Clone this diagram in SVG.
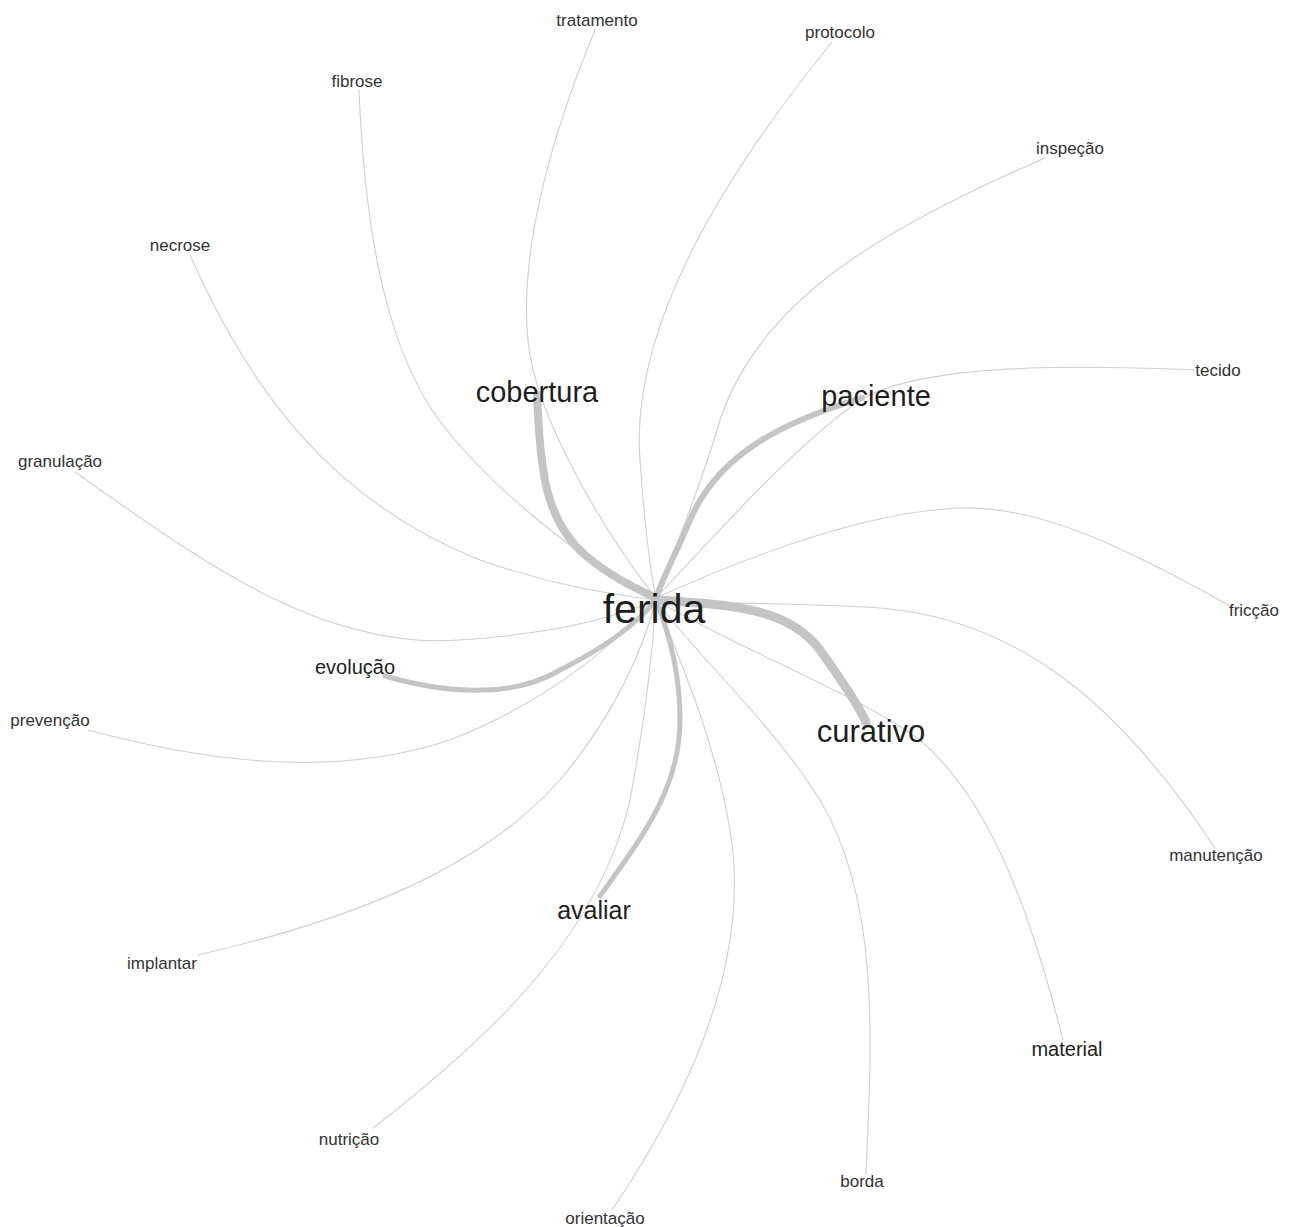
<svg xmlns="http://www.w3.org/2000/svg" width="1295" height="1227" viewBox="0 0 1295 1227">
<style>
.e{fill:none;stroke:#cfcfcf;stroke-width:1.1;stroke-linecap:round}
.t{fill:none;stroke:#c4c4c4;stroke-linecap:round}
text{font-family:"Liberation Sans",Arial,sans-serif;text-anchor:middle}
.s{font-size:17px;fill:#333}
.b{fill:#1e1e1e}
</style>
<rect width="1295" height="1227" fill="#fff"/>
<g id="connectors">
<path class="e" d="M595,30 C545,150 520,260 528,340 C535,420 610,540 656,598"/>
<path class="e" d="M832,42 C720,180 630,330 640,460 C645,530 650,570 656,598"/>
<path class="e" d="M359,90 C364,210 380,330 432,410 C480,480 580,560 656,600"/>
<path class="e" d="M1045,158 C880,230 760,300 720,420 C700,490 670,560 656,598"/>
<path class="e" d="M190,255 C250,390 330,500 480,560 C560,588 620,595 656,600"/>
<path class="e" d="M1195,370 C1060,364 920,365 860,400 C790,450 720,530 656,598"/>
<path class="e" d="M75,472 C200,560 320,650 460,640 C550,634 610,620 656,600"/>
<path class="e" d="M1232,607 C1130,550 1040,505 960,508 C860,512 740,560 656,598"/>
<path class="e" d="M88,730 C200,760 330,780 450,740 C540,705 610,650 656,600"/>
<path class="e" d="M1215,848 C1130,720 1030,620 880,608 C790,602 700,604 656,600"/>
<path class="e" d="M198,955 C350,920 480,870 560,780 C610,720 640,660 656,600"/>
<path class="e" d="M1063,1040 C1030,910 990,800 920,740 C850,690 740,650 656,600"/>
<path class="e" d="M373,1128 C500,1030 600,930 630,800 C645,720 652,660 656,600"/>
<path class="e" d="M866,1175 C872,1040 880,900 820,800 C770,720 700,660 656,600"/>
<path class="e" d="M612,1210 C700,1080 750,950 730,830 C715,740 680,660 656,600"/>
<path class="t" stroke-width="8" d="M537,395 C540,470 545,520 585,555 C615,580 640,590 656,598"/>
<path class="t" stroke-width="6" d="M862,398 C790,420 720,450 690,520 C675,555 662,580 656,598"/>
<path class="t" stroke-width="9" d="M656,600 C740,605 790,610 820,650 C845,685 858,705 866,722"/>
<path class="t" stroke-width="5" d="M385,676 C440,692 510,700 560,670 C610,645 640,620 656,600"/>
<path class="t" stroke-width="5" d="M600,896 C640,840 680,790 680,720 C680,670 668,630 656,600"/>
</g>
<g id="n-ferida"><text class="b" x="654" y="623" font-size="41">ferida</text></g>
<g id="n-cobertura"><text class="b" x="537" y="402" font-size="29">cobertura</text></g>
<g id="n-paciente"><text class="b" x="876" y="406" font-size="29">paciente</text></g>
<g id="n-curativo"><text class="b" x="871" y="742" font-size="31">curativo</text></g>
<g id="n-avaliar"><text class="b" x="594" y="919" font-size="25">avaliar</text></g>
<g id="n-evolucao"><text class="b" x="355" y="674" font-size="20">evolução</text></g>
<g id="n-material"><text class="b" x="1067" y="1056" font-size="20">material</text></g>
<g id="n-tratamento"><text class="s" x="597" y="26">tratamento</text></g>
<g id="n-protocolo"><text class="s" x="840" y="38">protocolo</text></g>
<g id="n-fibrose"><text class="s" x="357" y="87">fibrose</text></g>
<g id="n-inspecao"><text class="s" x="1070" y="154">inspeção</text></g>
<g id="n-necrose"><text class="s" x="180" y="251">necrose</text></g>
<g id="n-tecido"><text class="s" x="1218" y="376">tecido</text></g>
<g id="n-granulacao"><text class="s" x="60" y="467">granulação</text></g>
<g id="n-friccao"><text class="s" x="1254" y="616">fricção</text></g>
<g id="n-prevencao"><text class="s" x="50" y="726">prevenção</text></g>
<g id="n-manutencao"><text class="s" x="1216" y="861">manutenção</text></g>
<g id="n-implantar"><text class="s" x="162" y="969">implantar</text></g>
<g id="n-nutricao"><text class="s" x="349" y="1145">nutrição</text></g>
<g id="n-borda"><text class="s" x="862" y="1187">borda</text></g>
<g id="n-orientacao"><text class="s" x="605" y="1224">orientação</text></g>
</svg>
